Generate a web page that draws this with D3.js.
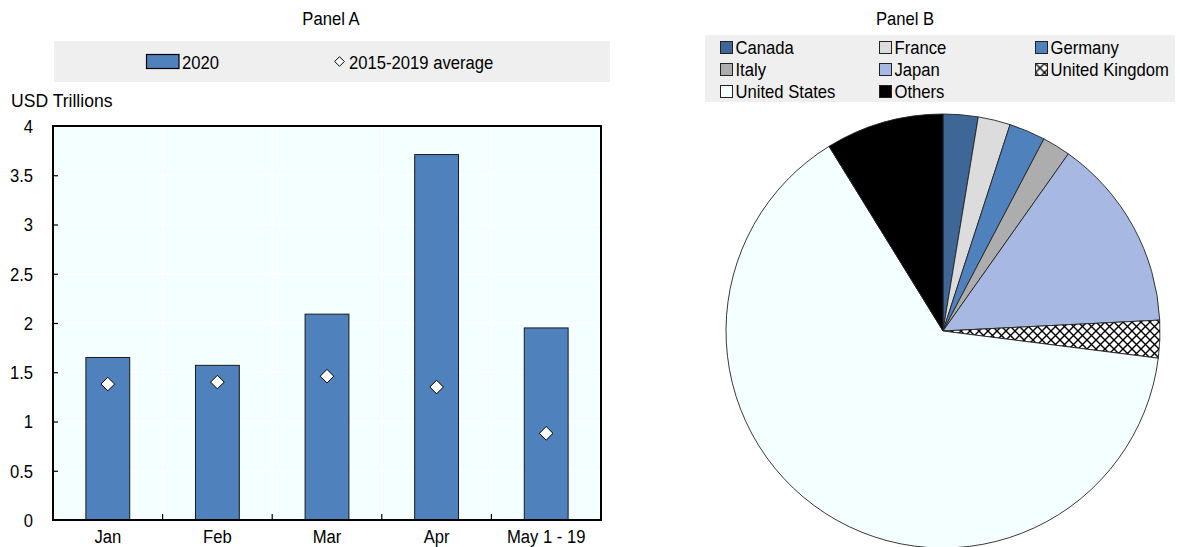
<!DOCTYPE html>
<html>
<head>
<meta charset="utf-8">
<script src="https://cdn.jsdelivr.net/npm/d3@7"></script>
<style>
  html, body { margin: 0; padding: 0; background: #ffffff; }
  svg { display: block; }
</style>
</head>
<body>
<svg id="chart" width="1180" height="547"></svg>
<script>
// ---------- DATA ----------
const categories = ["Jan", "Feb", "Mar", "Apr", "May 1 - 19"];
const values2020 = [1.65, 1.57, 2.09, 3.71, 1.95];
const avg2015_2019 = [1.38, 1.40, 1.46, 1.35, 0.88];
const yTicks = [0, 0.5, 1, 1.5, 2, 2.5, 3, 3.5, 4];
const yTickLabels = ["0", "0.5", "1", "1.5", "2", "2.5", "3", "3.5", "4"];

const countries = ["Canada", "France", "Germany", "Italy", "Japan", "United Kingdom", "United States", "Others"];
const shares = [2.6, 2.4, 2.7, 2.1, 14.4, 2.8, 64.2, 8.8];

// ---------- HELPERS ----------
const FAMILY = '"Liberation Sans", Arial, sans-serif';
const FS = 18.5;       // font size
const SX = 0.9;        // horizontal squeeze of glyphs
const svg = d3.select("#chart").style("font-family", FAMILY);

function addText(parent, x, y, str, opts = {}) {
  const sx = opts.sx ?? SX;
  return parent.append("text")
    .attr("transform", `translate(${x},${y}) scale(${sx},1)`)
    .attr("text-anchor", opts.anchor || "start")
    .style("font-size", (opts.size || FS) + "px")
    .attr("fill", "#000")
    .text(str);
}
const diamond = h => `M0,${-h}L${h},0L0,${h}L${-h},0Z`;

// ---------- PANEL A ----------
const pA = { left: 53, right: 601, top: 126, bottom: 520 };
const x = d3.scaleBand().domain(categories).range([pA.left, pA.right]).paddingInner(0).paddingOuter(0);
const y = d3.scaleLinear().domain([0, 4]).range([pA.bottom, pA.top]);

addText(svg, 331, 25, "Panel A", { anchor: "middle" });

// legend A
svg.append("rect").attr("x", 54).attr("y", 41).attr("width", 556).attr("height", 41).attr("fill", "#efefef");
svg.append("rect").attr("x", 146.5).attr("y", 54.5).attr("width", 32.5).attr("height", 14)
  .attr("fill", "#4f81bd").attr("stroke", "#000").attr("stroke-width", 1.2);
addText(svg, 182, 68.5, "2020");
svg.append("path").attr("d", diamond(4.8))
  .attr("transform", "translate(339.5,61.5)").attr("fill", "#fff").attr("stroke", "#000").attr("stroke-width", 1);
addText(svg, 349, 68.5, "2015-2019 average");

addText(svg, 11, 107, "USD Trillions", { sx: 0.95 });

// plot background
svg.append("rect").attr("x", pA.left).attr("y", pA.top).attr("width", pA.right - pA.left).attr("height", pA.bottom - pA.top)
  .attr("fill", "#f4ffff");

// gridlines
svg.append("g").selectAll("line").data(yTicks.slice(1, -1)).join("line")
  .attr("x1", pA.left).attr("x2", pA.right).attr("y1", d => y(d)).attr("y2", d => y(d))
  .attr("stroke", "#ffffff").attr("stroke-width", 1.5);
const bounds = categories.slice(1).map(c => x(c));
svg.append("g").selectAll("line").data(bounds).join("line")
  .attr("x1", d => d).attr("x2", d => d).attr("y1", pA.top).attr("y2", pA.bottom)
  .attr("stroke", "#ffffff").attr("stroke-width", 1.5);

// bars
const barW = x.bandwidth() * 0.4;
svg.append("g").selectAll("rect").data(values2020).join("rect")
  .attr("x", (d, i) => x(categories[i]) + x.bandwidth() / 2 - barW / 2)
  .attr("y", d => y(d)).attr("width", barW).attr("height", d => y(0) - y(d))
  .attr("fill", "#4f81bd").attr("stroke", "#1a1a1a").attr("stroke-width", 1);

// diamonds
svg.append("g").selectAll("path").data(avg2015_2019).join("path")
  .attr("d", diamond(6.8))
  .attr("transform", (d, i) => `translate(${x(categories[i]) + x.bandwidth() / 2},${y(d)})`)
  .attr("fill", "#fff").attr("stroke", "#000").attr("stroke-width", 1);

// axes
const yAxis = d3.axisLeft(y).tickValues(yTicks).tickFormat((d, i) => yTickLabels[i]).tickSize(-5).tickPadding(20);
const gy = svg.append("g").attr("transform", `translate(${pA.left},0)`).call(yAxis);
gy.select(".domain").remove();
gy.selectAll(".tick line").attr("stroke", "#000").attr("stroke-width", 1.2);
gy.selectAll(".tick").filter(d => d === 0 || d === 4).select("line").remove();
gy.selectAll(".tick text")
  .style("font-size", FS + "px").attr("fill", "#000").attr("font-family", FAMILY)
  .attr("x", null).attr("dy", "0.34em")
  .attr("transform", `translate(-20,0) scale(${SX},1)`);

const xAxis = d3.axisBottom(x).tickSize(0).tickPadding(10);
const gx = svg.append("g").attr("transform", `translate(0,${pA.bottom})`).call(xAxis);
gx.select(".domain").remove();
gx.selectAll(".tick text")
  .style("font-size", FS + "px").attr("fill", "#000").attr("font-family", FAMILY)
  .attr("y", null).attr("dy", "0.71em")
  .attr("transform", `translate(0,10) scale(${SX},1)`);
svg.append("g").selectAll("line").data(bounds).join("line")
  .attr("x1", d => d).attr("x2", d => d).attr("y1", pA.bottom).attr("y2", pA.bottom - 6)
  .attr("stroke", "#000").attr("stroke-width", 1.2);

svg.append("rect").attr("x", pA.left).attr("y", pA.top).attr("width", pA.right - pA.left).attr("height", pA.bottom - pA.top)
  .attr("fill", "none").attr("stroke", "#000").attr("stroke-width", 2);

// ---------- PANEL B ----------
const defs = svg.append("defs");
const pat = defs.append("pattern").attr("id", "ukpat").attr("patternUnits", "userSpaceOnUse")
  .attr("width", 9).attr("height", 9);
pat.append("rect").attr("width", 9).attr("height", 9).attr("fill", "#fff");
pat.append("path").attr("d", "M0,0L9,9M9,0L0,9").attr("stroke", "#000").attr("stroke-width", 1.4);

const colors = ["#3e6797", "#dcdcdc", "#4f81bd", "#adadad", "#a7b9e3", "url(#ukpat)", "#f4ffff", "#000000"];
const color = d3.scaleOrdinal().domain(countries).range(colors);

addText(svg, 905, 25, "Panel B", { anchor: "middle" });

svg.append("rect").attr("x", 705).attr("y", 35).attr("width", 470).attr("height", 67).attr("fill", "#efefef");
const colX = [720.5, 879.5, 1035.5];
const rowY = [41.5, 63.5, 85.5];
const lg = svg.append("g").selectAll("g").data(countries).join("g")
  .attr("transform", (d, i) => `translate(${colX[i % 3]},${rowY[Math.floor(i / 3)]})`);
lg.append("rect").attr("width", 12).attr("height", 12).attr("fill", d => color(d))
  .attr("stroke", "#222").attr("stroke-width", 1);
lg.each(function (d) { addText(d3.select(this), 15, 12.5, d); });

const pie = d3.pie().sort(null).value(d => d)(shares);
const arc = d3.arc().innerRadius(0).outerRadius(217);
svg.append("g").attr("transform", "translate(943,331)")
  .selectAll("path").data(pie).join("path")
  .attr("d", arc).attr("fill", (d, i) => color(countries[i]))
  .attr("stroke", "#222").attr("stroke-width", 0.9);
</script>
</body>
</html>
